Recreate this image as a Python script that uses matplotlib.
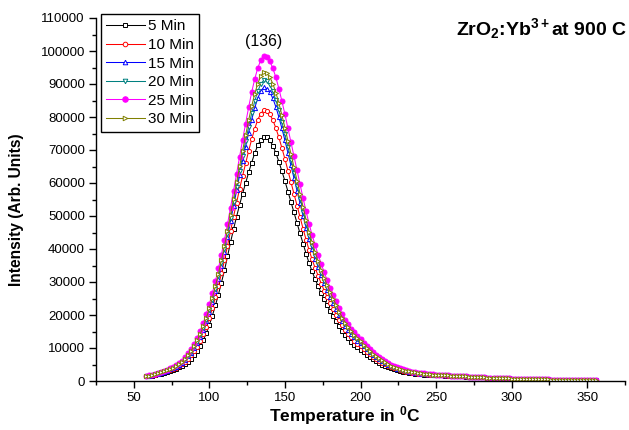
import matplotlib
matplotlib.use('Agg')
import matplotlib.pyplot as plt
import numpy as np
from matplotlib.ticker import MultipleLocator, FormatStrFormatter

plt.rcParams['font.family'] = ['Liberation Sans', 'DejaVu Sans']
plt.rcParams['mathtext.fontset'] = 'custom'
plt.rcParams['mathtext.rm'] = 'Liberation Sans'
plt.rcParams['mathtext.bf'] = 'Liberation Sans:bold'
plt.rcParams['mathtext.it'] = 'Liberation Sans:italic'

# ---------------- data (temperature in deg C, intensity in thousands) ----------------
temperature = np.arange(58, 357, 2)

int_5min = [
    1.4, 1.5, 1.65, 1.8, 2.0, 2.2, 2.4, 2.7, 3.0, 3.3,
    3.7, 4.1, 4.6, 5.2, 5.9, 6.8, 7.8, 9.1, 10.6, 12.4,
    14.5, 17.0, 19.8, 22.9, 26.2, 29.8, 33.5, 37.8, 42.0, 46.0,
    49.8, 53.4, 56.8, 60.0, 63.2, 66.2, 69.0, 71.4, 73.1, 74.0,
    73.8, 72.9, 71.3, 69.1, 66.5, 63.6, 60.6, 57.4, 54.3, 51.1,
    47.9, 44.7, 41.6, 38.6, 35.7, 33.2, 30.8, 28.7, 26.6, 24.7,
    22.9, 21.2, 19.7, 18.1, 16.6, 15.2, 14.0, 12.9, 11.9, 11.0,
    10.2, 9.5, 8.7, 8.0, 7.3, 6.6, 6.0, 5.5, 5.0, 4.6,
    4.2, 3.8, 3.5, 3.2, 3.0, 2.8, 2.6, 2.45, 2.3, 2.2,
    2.1, 2.0, 1.95, 1.9, 1.85, 1.8, 1.75, 1.7, 1.68, 1.65,
    1.6, 1.55, 1.5, 1.47, 1.43, 1.4, 1.36, 1.32, 1.28, 1.24,
    1.19, 1.14, 1.09, 1.04, 0.99, 0.95, 0.91, 0.87, 0.83, 0.79,
    0.76, 0.73, 0.7, 0.67, 0.64, 0.61, 0.59, 0.57, 0.55, 0.53,
    0.51, 0.49, 0.47, 0.45, 0.43, 0.42, 0.41, 0.4, 0.39, 0.38,
    0.37, 0.36, 0.35, 0.34, 0.33, 0.32, 0.31, 0.3, 0.29, 0.28]

int_10min = [
    1.43, 1.57, 1.73, 1.9, 2.13, 2.37, 2.6, 2.93, 3.26, 3.6,
    4.06, 4.53, 5.13, 5.86, 6.76, 7.79, 8.96, 10.42, 12.12, 14.12,
    16.41, 19.08, 22.04, 25.31, 28.81, 32.6, 36.57, 41.0, 45.47, 49.83,
    54.09, 58.22, 62.18, 65.94, 69.73, 73.23, 76.43, 79.12, 81.05, 82.09,
    81.82, 80.82, 79.06, 76.66, 73.79, 70.6, 67.27, 63.74, 60.27, 56.71,
    53.15, 49.62, 46.15, 42.82, 39.63, 36.83, 34.2, 31.84, 29.54, 27.41,
    25.41, 23.54, 21.85, 20.08, 18.42, 16.85, 15.52, 14.32, 13.22, 12.22,
    11.32, 10.52, 9.66, 8.86, 8.06, 7.29, 6.63, 6.06, 5.53, 5.06,
    4.6, 4.16, 3.83, 3.5, 3.26, 3.03, 2.8, 2.63, 2.48, 2.37,
    2.25, 2.13, 2.07, 2.0, 1.93, 1.87, 1.82, 1.77, 1.74, 1.7,
    1.64, 1.58, 1.53, 1.5, 1.45, 1.42, 1.37, 1.33, 1.29, 1.24,
    1.19, 1.14, 1.09, 1.04, 0.99, 0.95, 0.91, 0.87, 0.83, 0.79,
    0.76, 0.73, 0.7, 0.67, 0.64, 0.61, 0.59, 0.57, 0.55, 0.53,
    0.51, 0.49, 0.47, 0.45, 0.43, 0.42, 0.41, 0.4, 0.39, 0.38,
    0.37, 0.36, 0.35, 0.34, 0.33, 0.32, 0.31, 0.3, 0.29, 0.28]

int_15min = [
    1.46, 1.62, 1.8, 1.98, 2.24, 2.51, 2.77, 3.13, 3.49, 3.85,
    4.37, 4.89, 5.58, 6.42, 7.49, 8.63, 9.94, 11.54, 13.41, 15.57,
    18.04, 20.84, 23.95, 27.35, 31.02, 34.99, 39.17, 43.72, 48.41, 53.08,
    57.73, 62.31, 66.74, 70.98, 75.28, 79.19, 82.73, 85.67, 87.8, 88.95,
    88.62, 87.54, 85.64, 83.07, 79.98, 76.53, 72.92, 69.11, 65.34, 61.47,
    57.6, 53.79, 50.02, 46.41, 42.96, 39.91, 37.08, 34.5, 32.03, 29.7,
    27.54, 25.53, 23.67, 21.76, 19.96, 18.25, 16.81, 15.52, 14.34, 13.26,
    12.27, 11.39, 10.47, 9.59, 8.7, 7.88, 7.16, 6.54, 5.98, 5.45,
    4.93, 4.47, 4.11, 3.75, 3.49, 3.23, 2.97, 2.79, 2.64, 2.51,
    2.37, 2.24, 2.16, 2.08, 2.0, 1.92, 1.87, 1.82, 1.78, 1.74,
    1.67, 1.61, 1.56, 1.52, 1.47, 1.43, 1.38, 1.34, 1.29, 1.25,
    1.2, 1.15, 1.1, 1.05, 1.0, 0.96, 0.92, 0.88, 0.84, 0.8,
    0.77, 0.74, 0.71, 0.68, 0.65, 0.62, 0.6, 0.58, 0.56, 0.54,
    0.52, 0.5, 0.48, 0.46, 0.44, 0.43, 0.42, 0.41, 0.4, 0.39,
    0.38, 0.37, 0.36, 0.35, 0.34, 0.33, 0.32, 0.31, 0.3, 0.29]

int_20min = [
    1.47, 1.64, 1.83, 2.01, 2.28, 2.55, 2.82, 3.19, 3.56, 3.93,
    4.47, 5.01, 5.72, 6.6, 7.72, 8.9, 10.25, 11.9, 13.82, 16.04,
    18.56, 21.41, 24.56, 28.01, 31.73, 35.75, 40.01, 44.59, 49.35, 54.12,
    58.9, 63.62, 68.21, 72.6, 77.06, 81.11, 84.75, 87.78, 89.97, 91.15,
    90.81, 89.7, 87.75, 85.13, 81.97, 78.44, 74.74, 70.84, 66.97, 63.0,
    59.03, 55.13, 51.26, 47.56, 44.03, 40.9, 38.01, 35.35, 32.83, 30.44,
    28.22, 26.17, 24.25, 22.3, 20.45, 18.7, 17.22, 15.91, 14.7, 13.59,
    12.58, 11.67, 10.73, 9.82, 8.91, 8.07, 7.33, 6.69, 6.12, 5.58,
    5.04, 4.57, 4.2, 3.83, 3.56, 3.29, 3.02, 2.84, 2.69, 2.55,
    2.42, 2.28, 2.2, 2.11, 2.03, 1.94, 1.89, 1.84, 1.8, 1.76,
    1.68, 1.62, 1.57, 1.53, 1.48, 1.44, 1.39, 1.34, 1.29, 1.25,
    1.2, 1.15, 1.1, 1.05, 1.0, 0.96, 0.92, 0.88, 0.84, 0.8,
    0.77, 0.74, 0.71, 0.68, 0.65, 0.62, 0.6, 0.58, 0.56, 0.54,
    0.52, 0.5, 0.48, 0.46, 0.44, 0.43, 0.42, 0.41, 0.4, 0.39,
    0.38, 0.37, 0.36, 0.35, 0.34, 0.33, 0.32, 0.31, 0.3, 0.29]

int_25min = [
    1.5, 1.7, 1.9, 2.1, 2.4, 2.7, 3.0, 3.4, 3.8, 4.2,
    4.8, 5.4, 6.2, 7.2, 8.5, 9.8, 11.3, 13.1, 15.2, 17.6,
    20.3, 23.3, 26.6, 30.2, 34.1, 38.3, 42.8, 47.5, 52.5, 57.6,
    62.8, 68.0, 73.1, 78.0, 83.0, 87.5, 91.5, 94.8, 97.2, 98.5,
    98.1, 96.9, 94.8, 92.0, 88.6, 84.8, 80.8, 76.6, 72.4, 68.1,
    63.8, 59.6, 55.4, 51.4, 47.6, 44.2, 41.1, 38.2, 35.5, 32.9,
    30.5, 28.3, 26.2, 24.1, 22.1, 20.2, 18.6, 17.2, 15.9, 14.7,
    13.6, 12.6, 11.6, 10.6, 9.6, 8.7, 7.9, 7.2, 6.6, 6.0,
    5.4, 4.9, 4.5, 4.1, 3.8, 3.5, 3.2, 3.0, 2.85, 2.7,
    2.55, 2.4, 2.3, 2.2, 2.1, 2.0, 1.95, 1.9, 1.85, 1.8,
    1.72, 1.65, 1.6, 1.55, 1.5, 1.45, 1.4, 1.35, 1.3, 1.25,
    1.2, 1.15, 1.1, 1.05, 1.0, 0.96, 0.92, 0.88, 0.84, 0.8,
    0.77, 0.74, 0.71, 0.68, 0.65, 0.62, 0.6, 0.58, 0.56, 0.54,
    0.52, 0.5, 0.48, 0.46, 0.44, 0.43, 0.42, 0.41, 0.4, 0.39,
    0.38, 0.37, 0.36, 0.35, 0.34, 0.33, 0.32, 0.31, 0.3, 0.29]

int_30min = [
    1.48, 1.66, 1.85, 2.04, 2.32, 2.6, 2.88, 3.26, 3.64, 4.02,
    4.58, 5.14, 5.88, 6.8, 7.98, 9.2, 10.6, 12.3, 14.28, 16.56,
    19.14, 22.04, 25.24, 28.74, 32.52, 36.6, 40.94, 45.56, 50.4, 55.28,
    60.2, 65.08, 69.84, 74.4, 79.04, 83.24, 87.0, 90.12, 92.38, 93.6,
    93.24, 92.1, 90.1, 87.42, 84.18, 80.56, 76.76, 72.76, 68.78, 64.7,
    60.62, 56.62, 52.64, 48.84, 45.22, 42.0, 39.04, 36.3, 33.72, 31.26,
    28.98, 26.88, 24.9, 22.9, 21.0, 19.2, 17.68, 16.34, 15.1, 13.96,
    12.92, 12.0, 11.02, 10.08, 9.14, 8.28, 7.52, 6.86, 6.28, 5.72,
    5.16, 4.68, 4.3, 3.92, 3.64, 3.36, 3.08, 2.89, 2.74, 2.6,
    2.46, 2.32, 2.23, 2.14, 2.05, 1.96, 1.91, 1.86, 1.82, 1.77,
    1.7, 1.63, 1.58, 1.53, 1.49, 1.44, 1.39, 1.34, 1.3, 1.25,
    1.2, 1.15, 1.1, 1.05, 1.0, 0.96, 0.92, 0.88, 0.84, 0.8,
    0.77, 0.74, 0.71, 0.68, 0.65, 0.62, 0.6, 0.58, 0.56, 0.54,
    0.52, 0.5, 0.48, 0.46, 0.44, 0.43, 0.42, 0.41, 0.4, 0.39,
    0.38, 0.37, 0.36, 0.35, 0.34, 0.33, 0.32, 0.31, 0.3, 0.29]

series_labels = ['5 Min', '10 Min', '15 Min', '20 Min', '25 Min', '30 Min']
series_values = [int_5min, int_10min, int_15min, int_20min, int_25min, int_30min]
peak_label = '(136)'
peak_temp = 136

# ---------------- styles ----------------
colors = ['#000000', '#FF0000', '#0000FF', '#008080', '#FF00FF', '#808000']
markers = ['s', 'o', '^', 'v', 'o', '>']
mfcs = ['white', 'white', 'white', 'white', '#FF00FF', 'white']
msizes = [3.0, 3.0, 3.0, 3.0, 3.6, 3.0]

fig = plt.figure(figsize=(6.29, 4.30), dpi=100)
ax = fig.add_axes([96 / 629, 1 - 381 / 430, 529 / 629, 363 / 430])

for lab, vals, c, m, fc, ms in zip(series_labels, series_values, colors, markers, mfcs, msizes):
    ax.plot(temperature, np.array(vals) * 1000, color=c, lw=0.75, marker=m,
            markersize=ms, markerfacecolor=fc, markeredgecolor=c,
            markeredgewidth=0.7, label=lab)

ax.set_xlim(25, 375)
ax.set_ylim(0, 110000)
ax.xaxis.set_major_locator(MultipleLocator(50))
ax.xaxis.set_minor_locator(MultipleLocator(25))
ax.yaxis.set_major_locator(MultipleLocator(10000))
ax.yaxis.set_minor_locator(MultipleLocator(5000))
ax.yaxis.set_major_formatter(FormatStrFormatter('%d'))

for s in ['top', 'right']:
    ax.spines[s].set_visible(False)
for s in ['left', 'bottom']:
    ax.spines[s].set_linewidth(1.0)

ax.tick_params(which='major', direction='out', length=5, width=1.0,
               labelsize=9.5, colors='black', pad=3)
ax.tick_params(which='minor', direction='out', length=3, width=1.0)

ax.set_ylabel('Intensity (Arb. Units)', fontsize=11.2, fontweight='bold')
ax.yaxis.set_label_coords((24 - 96) / 529, (381 - 210) / 363)
ax.set_xlabel(r'Temperature in $^{\mathbf{0}}$C', fontsize=12.5, fontweight='bold')
ax.xaxis.set_label_coords((345 - 96) / 529, -(404 - 381) / 363)

ax.text(peak_temp, 103000, peak_label, ha='center', va='center', fontsize=11.4)

fig.text(627 / 629, 1 - 29 / 430, r'ZrO$_\mathbf{2}$:Yb$^\mathbf{3+}$at 900 C',
         ha='right', va='center', fontsize=14, fontweight='bold')

leg = ax.legend(loc='upper left', bbox_to_anchor=((101 - 96) / 529, (381 - 14) / 363),
                frameon=True, fancybox=False, edgecolor='black', framealpha=1,
                fontsize=11, handlelength=2.5, handletextpad=0.2,
                labelspacing=0.3, borderpad=0.35, borderaxespad=0, numpoints=1,
                markerscale=1.1)
leg.get_frame().set_linewidth(1.0)

fig.savefig('out.png', dpi=100)
